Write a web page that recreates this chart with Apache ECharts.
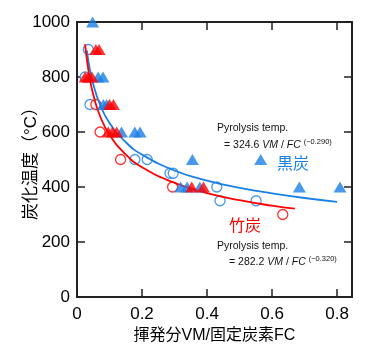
<!DOCTYPE html>
<html>
<head>
<meta charset="utf-8">
<script src="https://cdn.jsdelivr.net/npm/echarts@6/dist/echarts.min.js"></script>
<style>
html,body{margin:0;padding:0;background:#fff;}
#chart{width:365px;height:351px;}
</style>
</head>
<body>
<div id="chart"></div>
<script>
'use strict'

var BLUE = '#1a80e6';
var RED = '#ff0000';
var FONT = '"Liberation Sans", "Noto Sans CJK JP", sans-serif';

// 黒炭 (filled triangles / open circles)
var blackTri = [[0.048,1000],[0.065,800],[0.080,800],[0.081,700],[0.091,700],[0.137,600],[0.178,600],[0.194,600],
	[0.355,500],[0.565,500],[0.319,400],[0.339,400],[0.378,400],[0.684,400],[0.809,400]];
var blackCirc = [[0.035,900],[0.025,800],[0.040,700],[0.178,500],[0.216,500],[0.286,450],[0.296,450],
	[0.430,400],[0.440,350],[0.551,350]];
// 竹炭
var bambooTri = [[0.058,900],[0.068,900],[0.025,800],[0.034,800],[0.046,800],[0.100,700],[0.112,700],
	[0.096,600],[0.109,600],[0.122,600],[0.353,400],[0.389,400]];
var bambooCirc = [[0.058,700],[0.071,600],[0.134,500],[0.294,400],[0.633,300]];

// fit curves
var blackFit = [[0.03,897],[0.04,825],[0.05,774],[0.07,702],[0.10,633],[0.15,563],[0.20,518],[0.30,460],
	[0.40,423],[0.50,397],[0.60,377],[0.70,360],[0.80,346]];
var bambooFit = [[0.025,919],[0.03,867],[0.04,790],[0.05,736],[0.07,661],[0.10,590],[0.15,518],[0.20,472],
	[0.30,415],[0.40,378],[0.50,352],[0.60,332],[0.67,321]];

var xTicks = [0, 0.2, 0.4, 0.6, 0.8];
var yTicks = [0, 200, 400, 600, 800, 1000];

var chart = echarts.init(document.getElementById('chart'));

var axisLine = {show: true, onZero: false, lineStyle: {color: '#222', width: 2}};
var tick = {show: true, inside: true, length: 8, lineStyle: {color: '#222', width: 1.5}};

function xLabel(v){
	for(var i=0;i<xTicks.length;i++){
		if(Math.abs(v-xTicks[i])<1e-6) return xTicks[i]===0 ? '0' : String(xTicks[i]);
	}
	return '';
}
function yLabel(v){
	return yTicks.indexOf(v)>=0 ? String(v) : '';
}

var option = {
	animation: false,
	textStyle: {fontFamily: FONT},
	grid: {left: 77, top: 22, width: 275, height: 275, show: true, borderColor: '#222', borderWidth: 2, backgroundColor: 'transparent'},
	xAxis: [{
		type: 'value', min: 0, max: 0.846, interval: 0.2,
		name: '揮発分VM/固定炭素FC', nameLocation: 'middle', nameGap: 31, nameMoveOverlap: false,
		nameTextStyle: {fontSize: 16, color: '#000', fontFamily: FONT},
		axisLine: axisLine, axisTick: tick, splitLine: {show: false},
		axisLabel: {fontSize: 17, color: '#000', margin: 9, showMaxLabel: false, formatter: xLabel}
	},{
		type: 'value', min: 0, max: 0.846, interval: 0.2, position: 'top',
		axisLine: axisLine, axisTick: tick, splitLine: {show: false}, axisLabel: {show: false}
	}],
	yAxis: [{
		type: 'value', min: 0, max: 1000, interval: 200,
		name: '炭化温度（°C）', nameLocation: 'middle', nameGap: 37, nameMoveOverlap: false,
		nameTextStyle: {fontSize: 17, color: '#000', fontFamily: FONT},
		axisLine: axisLine, axisTick: tick, splitLine: {show: false},
		axisLabel: {fontSize: 17, color: '#000', margin: 7, formatter: yLabel}
	},{
		type: 'value', min: 0, max: 1000, interval: 200, position: 'right',
		axisLine: axisLine, axisTick: tick, splitLine: {show: false}, axisLabel: {show: false}
	}],
	series: [
		{type: 'scatter', data: blackCirc, symbol: 'circle', symbolSize: 10,
			itemStyle: {color: '#fff', borderColor: BLUE, borderWidth: 1.3}, z: 2},
		{type: 'scatter', data: bambooCirc, symbol: 'circle', symbolSize: 10,
			itemStyle: {color: '#fff', borderColor: RED, borderWidth: 1.3}, z: 2},
		{type: 'line', data: blackFit, smooth: true, showSymbol: false,
			lineStyle: {color: BLUE, width: 1.8}, z: 3},
		{type: 'line', data: bambooFit, smooth: true, showSymbol: false,
			lineStyle: {color: RED, width: 1.8}, z: 3},
		{type: 'scatter', data: blackTri, symbol: 'triangle', symbolSize: [13, 11],
			itemStyle: {color: BLUE}, z: 4},
		{type: 'scatter', data: bambooTri, symbol: 'triangle', symbolSize: [13, 11],
			itemStyle: {color: RED}, z: 4}
	],
	graphic: [
		{type: 'text', left: 217, top: 123, style: {text: 'Pyrolysis temp.', fontSize: 10.5, fill: '#111', fontFamily: FONT}},
		{type: 'text', left: 224, top: 138, style: {
			text: '= 324.6 {i|VM} / {i|FC} {s|(−0.290)}', fontSize: 10.5, fill: '#111', fontFamily: FONT,
			rich: {i: {fontStyle: 'italic', fontSize: 10.5}, s: {fontSize: 7.5, verticalAlign: 'top', padding: [0,0,6,0]}}
		}},
		{type: 'text', left: 277, top: 157, style: {text: '黒炭', fontSize: 16, fill: BLUE, fontFamily: FONT}},
		{type: 'text', left: 229, top: 219, style: {text: '竹炭', fontSize: 16, fill: RED, fontFamily: FONT}},
		{type: 'text', left: 217, top: 241, style: {text: 'Pyrolysis temp.', fontSize: 10.5, fill: '#111', fontFamily: FONT}},
		{type: 'text', left: 229, top: 255, style: {
			text: '= 282.2 {i|VM} / {i|FC} {s|(−0.320)}', fontSize: 10.5, fill: '#111', fontFamily: FONT,
			rich: {i: {fontStyle: 'italic', fontSize: 10.5}, s: {fontSize: 7.5, verticalAlign: 'top', padding: [0,0,6,0]}}
		}}
	]
};

chart.setOption(option);
</script>
</body>
</html>
